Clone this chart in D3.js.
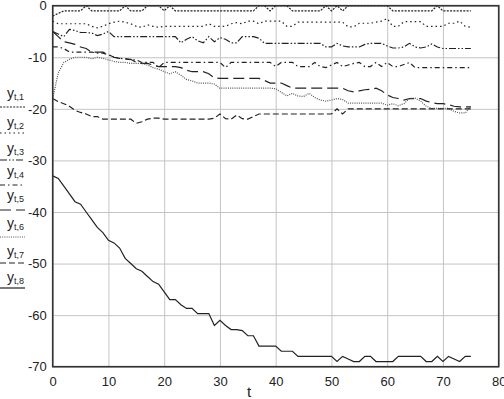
<!DOCTYPE html>
<html>
<head>
<meta charset="utf-8">
<script src="https://cdn.jsdelivr.net/npm/d3@7/dist/d3.min.js"></script>
<style>
  body { margin: 0; background: #fff; }
  svg { display: block; font-family: "Liberation Sans", Arial, sans-serif; }
</style>
</head>
<body>
<div id="chart"></div>
<script>
// time index
var t = d3.range(0, 76);

var y1 = [-2, -1.5, -1, -1, -1, -1, 0, -1, -1, -1,
          -1, -1, -1, 0, -1, -1, -1, 0, 0, 0,
          -1, 0, -1, -1, -1, -1, -1, -1, -1, -1,
          -1, -1, -1, -1, -1, -1, -1, 0, 0, -1,
          0, 0, 0, -1, -1, -1, -1, -1, -1, 0,
          -1, 0, -1, 0, 0, 0, 0, 0, 0, 0,
          0, -1, -1, -1, -1, -1, -1, -1, -1, 0,
          -1, -1, -1, -1, -1, -1];

var y2 = [-3, -3.5, -3.5, -3.5, -3.5, -3.5, -3.5, -4, -4.3, -4,
          -3.5, -3.2, -3, -3.2, -3.5, -4, -4.2, -3.7, -4, -4.2,
          -4, -4, -4, -4, -4, -4, -4, -4, -3.5, -4,
          -4, -4, -3.5, -3.3, -3.5, -3, -3, -3.5, -3, -3,
          -3, -3, -4, -4, -3.2, -3.2, -3.2, -3.2, -3.2, -3.2,
          -3.2, -3.2, -3.2, -4.1, -4.1, -3.4, -3.4, -3.4, -3.2, -3,
          -2.5, -4, -4, -3.1, -3.1, -3.1, -3.1, -4, -4, -4,
          -4, -3.4, -3.4, -3, -4, -4.2];

var y3 = [-5, -5.5, -6, -4.6, -4.8, -5.2, -5.2, -5.3, -5.8, -5.5,
          -5, -6, -6, -6, -6, -6, -6, -6, -6, -6,
          -6, -6, -6, -7.2, -6.5, -6, -6.8, -7.2, -6, -7,
          -6.2, -6.5, -7.2, -7.2, -6, -6, -6, -6.3, -7.3, -7.3,
          -7.3, -7.3, -7.3, -7.3, -7.3, -7.3, -7.3, -7.3, -7.3, -8,
          -8, -7.3, -7.8, -8, -8, -8, -7.5, -7.3, -7.3, -7.3,
          -7.8, -8.2, -8.2, -8, -7.3, -8, -8.2, -8, -7.4, -8,
          -8.3, -8.3, -8.3, -8.3, -8.3, -8.3];

var y4 = [-8, -8, -8.3, -9, -9, -9, -9, -9, -9.2, -9.2,
          -9.5, -10, -10.2, -10.3, -10.5, -10.5, -11, -11, -11, -12,
          -11, -11, -11, -11, -11, -11, -11, -11, -11, -11,
          -11, -12, -11, -11, -11, -11, -11, -11, -11, -11,
          -11.8, -11, -11, -11, -11.8, -11.8, -11.8, -11, -11.8, -12,
          -11.5, -11, -11.8, -11.5, -11.2, -11, -11.8, -11.8, -11, -11.8,
          -11, -11.8, -11.8, -11.4, -11, -12, -12, -12, -12, -12,
          -12, -12, -12, -12, -12, -12];

var y5 = [-5, -6, -7, -7.2, -7.5, -8, -8.3, -9, -9, -9,
          -9.5, -10, -10.2, -10.3, -10.4, -11, -11.2, -11.2, -11.5, -11.8,
          -11.8, -11.8, -11.8, -12, -12.5, -12.8, -12.8, -12.8, -13.2, -14,
          -14.1, -14.1, -14.1, -14.1, -14.1, -14.1, -14.1, -14.1, -14.5, -15,
          -15, -15, -15.5, -16, -16, -16, -16, -16, -16, -16,
          -16, -16, -16, -16.5, -16.7, -16.5, -16.3, -16.2, -16, -16.5,
          -17.3, -17.8, -18, -18.3, -18, -18, -18, -18.5, -18.8, -19,
          -19, -19.2, -19.5, -19.6, -19.6, -19.6];

var y6 = [-18, -13, -11, -10.4, -10, -10, -10, -10.3, -10, -10.2,
          -10.5, -10.8, -11, -11, -11.2, -11.2, -11.2, -11.5, -12, -12.3,
          -12.8, -13.2, -12.8, -13.5, -14.3, -14.6, -15, -15, -15, -15.2,
          -16, -16, -16, -16, -16, -16, -16, -16, -16, -16,
          -16.1, -16.8, -17.5, -17, -17.5, -17.6, -17, -17.8, -18.3, -18.5,
          -18.3, -18, -18.2, -18.9, -18.9, -18.9, -18.9, -18.9, -18.9, -18.9,
          -19.3, -19, -19.4, -19, -18, -17.9, -18.5, -19.5, -19.9, -19.9,
          -19.9, -19.9, -20.5, -20.8, -20.8, -19.5];

var y7 = [-18, -18.6, -19, -19.5, -20.3, -20.7, -21, -21.5, -21.5, -22,
          -22, -22, -22, -22, -22, -22.8, -22.5, -22, -21.8, -21.8,
          -22, -22, -22, -22, -22, -22, -22, -22, -22, -21.8,
          -21, -21.9, -22, -21.2, -21.9, -22, -21.5, -21, -21, -21,
          -21, -21, -21, -21, -21, -21, -21, -21, -21, -21,
          -21, -20, -21, -20, -20, -20, -20, -20, -20, -20,
          -20, -20, -20, -20, -20, -20, -20, -20, -20, -20,
          -20, -20, -20, -20, -20, -20];

var y8 = [-33, -33.5, -35, -36.5, -38, -38.5, -40, -41.5, -43, -44,
          -45.5, -46, -47, -49, -50, -51, -51.5, -52.5, -53.5, -54,
          -55.5, -57, -57, -58, -58.7, -58.7, -59.7, -59.7, -59.7, -62,
          -61, -62, -62.8, -62.8, -63, -64, -64, -66, -66, -66,
          -66, -67, -67, -67, -68, -68, -68, -68, -68, -68,
          -68, -69, -68, -68.5, -69, -69, -68, -68, -69, -69,
          -69, -69, -68, -68, -68, -68, -68, -69, -69, -68,
          -69, -68, -68.5, -69, -68, -68];

var seriesNames = ["t,1", "t,2", "t,3", "t,4", "t,5", "t,6", "t,7", "t,8"];
var xTicks = [0, 10, 20, 30, 40, 50, 60, 70, 80];
var yTicks = [0, -10, -20, -30, -40, -50, -60, -70];

var series = [y1, y2, y3, y4, y5, y6, y7, y8];

// line styles, one per series
var dashes = ["2,1.3", "1.5,3", "7,2,1.5,2,1.5,2", "5,3,1.5,3", "11,5", "1,1.2", "6,3", null];
var strokes = ["#222", "#222", "#222", "#222", "#222", "#555", "#222", "#222"];

var width = 504, height = 399;
var margin = {left: 52.7, right: 5.3, top: 5.7, bottom: 32.3};

var x = d3.scaleLinear()
    .domain([0, 80])
    .range([margin.left, width - margin.right]);

var y = d3.scaleLinear()
    .domain([-70, 0])
    .range([height - margin.bottom, margin.top]);

var svg = d3.select("#chart").append("svg")
    .attr("width", width)
    .attr("height", height);

// grid + tick labels (plain hyphen minus like the original)
var fmt = function(d) { return String(d); };

var xAxis = d3.axisBottom(x)
    .tickValues(xTicks)
    .tickFormat(fmt)
    .tickSize(-(y(-70) - y(0)))
    .tickPadding(10);

var yAxis = d3.axisLeft(y)
    .tickValues(yTicks)
    .tickFormat(fmt)
    .tickSize(-(x(80) - x(0)))
    .tickPadding(6);

function styleAxis(g) {
    g.select(".domain").remove();
    g.selectAll(".tick line").attr("stroke", "#c4c4c4").attr("stroke-width", 1);
    g.selectAll(".tick text")
        .attr("fill", "#222")
        .style("font-size", "13px")
        .style("font-family", "'Liberation Sans', Arial, sans-serif");
}

svg.append("g")
    .attr("transform", "translate(0," + y(-70) + ")")
    .call(xAxis)
    .call(styleAxis);

svg.append("g")
    .attr("transform", "translate(" + x(0) + ",0)")
    .call(yAxis)
    .call(styleAxis);

// axis title
svg.append("text")
    .attr("x", 249)
    .attr("y", 397)
    .attr("text-anchor", "middle")
    .attr("fill", "#222")
    .style("font-size", "15px")
    .text("t");

// series
var line = d3.line()
    .x(function(d, i) { return x(t[i]); })
    .y(function(d) { return y(d); });

series.forEach(function(s, i) {
    svg.append("path")
        .datum(s)
        .attr("fill", "none")
        .attr("stroke", strokes[i])
        .attr("stroke-width", 1.2)
        .attr("stroke-dasharray", dashes[i])
        .attr("d", line);
});

// frame
svg.append("rect")
    .attr("x", x(0))
    .attr("y", y(0))
    .attr("width", x(80) - x(0))
    .attr("height", y(-70) - y(0))
    .attr("fill", "none")
    .attr("stroke", "#333")
    .attr("stroke-width", 1.6);

// legend on the left
var legendTextY = [98, 127, 153, 176, 200, 228, 256, 282];
var legendLineY = [107, 133, 160, 185, 210, 237, 263, 288];

var legend = svg.append("g");

seriesNames.forEach(function(name, i) {
    var txt = legend.append("text")
        .attr("x", 7)
        .attr("y", legendTextY[i])
        .attr("fill", "#222")
        .style("font-family", "'Liberation Sans', Arial, sans-serif")
        .style("font-size", "14px");
    txt.append("tspan").text("y");
    txt.append("tspan")
        .attr("dy", 2)
        .style("font-size", "9px")
        .text(name);

    legend.append("line")
        .attr("x1", 0)
        .attr("x2", 25)
        .attr("y1", legendLineY[i])
        .attr("y2", legendLineY[i])
        .attr("stroke", strokes[i])
        .attr("stroke-width", 1.2)
        .attr("stroke-dasharray", dashes[i]);
});
</script>
</body>
</html>
